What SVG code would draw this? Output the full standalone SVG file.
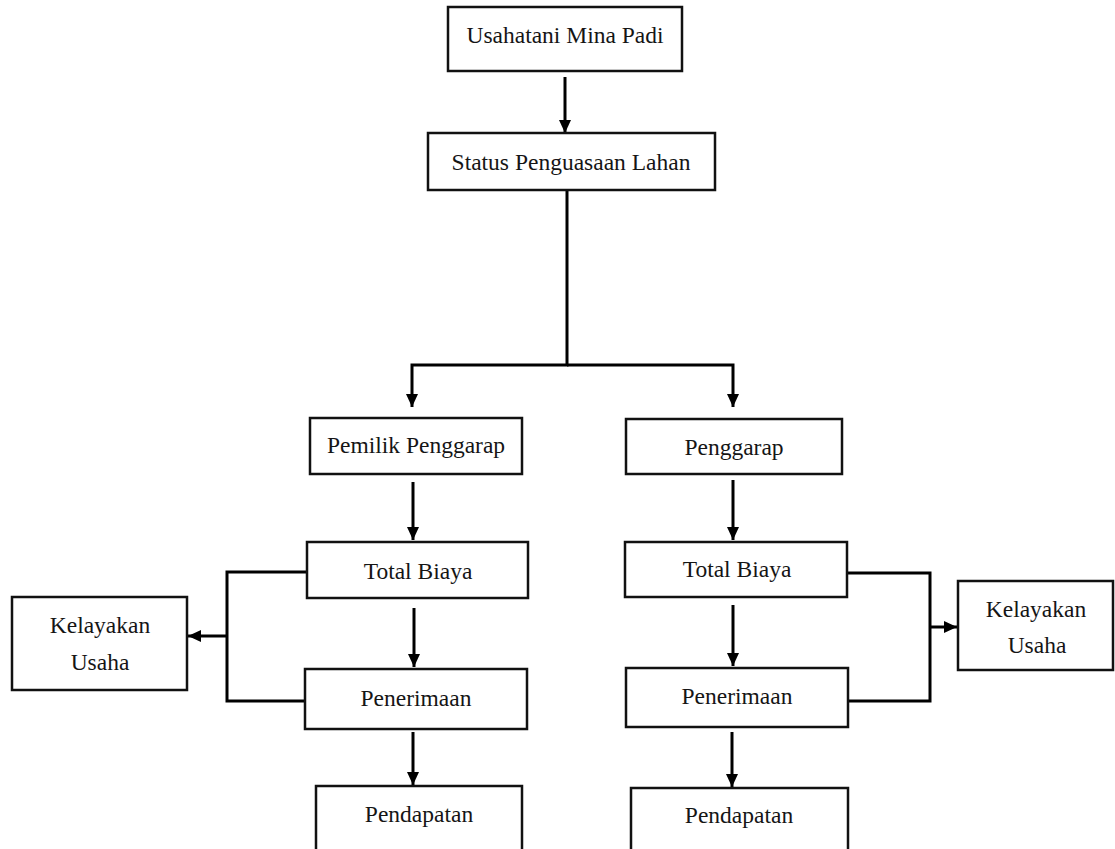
<svg xmlns="http://www.w3.org/2000/svg" width="1115" height="849" viewBox="0 0 1115 849">
  <style>
    .box { fill: #ffffff; stroke: #111111; stroke-width: 2.5; }
    .lbl { font-family: "Liberation Serif", "Times New Roman", serif; font-size: 23.5px; fill: #151515; text-anchor: middle; }
    .con { fill: none; stroke: #000000; stroke-width: 3; }
  </style>
  <defs>
    <marker id="arr" markerUnits="userSpaceOnUse" markerWidth="13" markerHeight="12" refX="13" refY="6" orient="auto">
      <path d="M0,0 L13,6 L0,12 z" fill="#000000"/>
    </marker>
  </defs>
  <rect width="1115" height="849" fill="#ffffff"/>

  <g id="connectors">
    <path class="con" d="M565,77 V133" marker-end="url(#arr)"/>
    <path class="con" d="M567,190 V365 H412 V407" marker-end="url(#arr)"/>
    <path class="con" d="M567,365 H733 V407" marker-end="url(#arr)"/>
    <path class="con" d="M413,482 V540" marker-end="url(#arr)"/>
    <path class="con" d="M414,608 V667" marker-end="url(#arr)"/>
    <path class="con" d="M413,732 V785" marker-end="url(#arr)"/>
    <path class="con" d="M307,572 H227 V701 H305"/>
    <path class="con" d="M227,636 H188" marker-end="url(#arr)"/>
    <path class="con" d="M733,480 V540" marker-end="url(#arr)"/>
    <path class="con" d="M733,605 V666" marker-end="url(#arr)"/>
    <path class="con" d="M732,732 V787" marker-end="url(#arr)"/>
    <path class="con" d="M847,573 H930 V701 H848"/>
    <path class="con" d="M930,627 H957" marker-end="url(#arr)"/>
  </g>

  <g id="usahatani">
    <rect class="box" x="448" y="7" width="234" height="64"/>
    <text class="lbl" x="565" y="43">Usahatani Mina Padi</text>
  </g>
  <g id="status">
    <rect class="box" x="428" y="133" width="287" height="57"/>
    <text class="lbl" x="571" y="170">Status Penguasaan Lahan</text>
  </g>
  <g id="pemilik-penggarap">
    <rect class="box" x="310" y="418" width="212" height="56"/>
    <text class="lbl" x="416" y="453">Pemilik Penggarap</text>
  </g>
  <g id="total-biaya-kiri">
    <rect class="box" x="307" y="542" width="221" height="56"/>
    <text class="lbl" x="418" y="579">Total Biaya</text>
  </g>
  <g id="penerimaan-kiri">
    <rect class="box" x="305" y="669" width="222" height="60"/>
    <text class="lbl" x="416" y="706">Penerimaan</text>
  </g>
  <g id="pendapatan-kiri">
    <rect class="box" x="316" y="786" width="206" height="80"/>
    <text class="lbl" x="419" y="822">Pendapatan</text>
  </g>
  <g id="kelayakan-kiri">
    <rect class="box" x="12" y="597" width="175" height="93"/>
    <text class="lbl" x="100" y="633">Kelayakan</text>
    <text class="lbl" x="100" y="670">Usaha</text>
  </g>
  <g id="penggarap">
    <rect class="box" x="626" y="419" width="216" height="55"/>
    <text class="lbl" x="734" y="455">Penggarap</text>
  </g>
  <g id="total-biaya-kanan">
    <rect class="box" x="625" y="542" width="222" height="55"/>
    <text class="lbl" x="737" y="577">Total Biaya</text>
  </g>
  <g id="penerimaan-kanan">
    <rect class="box" x="626" y="668" width="222" height="59"/>
    <text class="lbl" x="737" y="704">Penerimaan</text>
  </g>
  <g id="pendapatan-kanan">
    <rect class="box" x="631" y="788" width="217" height="80"/>
    <text class="lbl" x="739" y="823">Pendapatan</text>
  </g>
  <g id="kelayakan-kanan">
    <rect class="box" x="958" y="581" width="155" height="89"/>
    <text class="lbl" x="1036" y="617">Kelayakan</text>
    <text class="lbl" x="1037" y="653">Usaha</text>
  </g>
</svg>
